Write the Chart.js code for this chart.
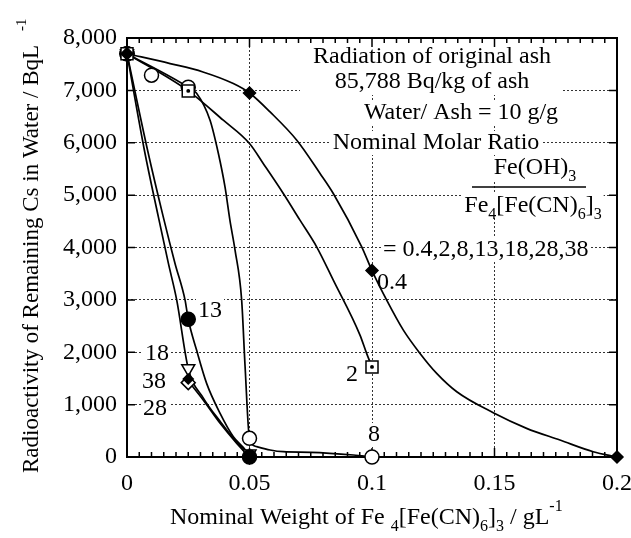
<!DOCTYPE html>
<html>
<head>
<meta charset="utf-8">
<script src="https://cdn.jsdelivr.net/npm/chart.js@4.4.1/dist/chart.umd.min.js"></script>
<style>
  html, body { margin: 0; padding: 0; background: #fff; }
  #wrap { width: 631px; height: 538px; }
</style>
</head>
<body>
<div id="wrap"><canvas id="myChart" width="631" height="538"></canvas></div>
<script>
const SERIF = '"Liberation Serif", "Times New Roman", serif';

// tick labels
const xTickLabels = ['0', '0.05', '0.1', '0.15', '0.2'];
const yTickLabels = ['0', '1,000', '2,000', '3,000', '4,000', '5,000', '6,000', '7,000', '8,000'];

// measured points, one pair of arrays per molar ratio
const x04 = [0, 0.05, 0.1, 0.2];
const y04 = [7700, 6950, 3560, 0];
const x2 = [0, 0.025, 0.1];
const y2 = [7700, 6990, 1720];
const x8 = [0, 0.01, 0.025, 0.05, 0.1];
const y8 = [7700, 7290, 7060, 357, 0];
const x13 = [0, 0.025, 0.05];
const y13 = [7700, 2630, 0];
const x18 = [0, 0.025, 0.05];
const y18 = [7700, 1690, 60];
const x28 = [0, 0.025, 0.05];
const y28 = [7700, 1420, 0];
const x38 = [0, 0.025, 0.05];
const y38 = [7700, 1490, 0];

// smooth curves as drawn in the figure
const fitX04 = [0, 0.0176, 0.031, 0.0434, 0.05, 0.0584, 0.0693, 0.0788, 0.0842, 0.0958, 0.1, 0.106, 0.1128, 0.1196, 0.1264, 0.1346, 0.1495, 0.1631, 0.1767, 0.1903, 0.2];
const fitY04 = [7700, 7512, 7352, 7130, 6950, 6588, 6048, 5413, 5031, 4013, 3560, 2996, 2423, 1978, 1597, 1246, 845, 547, 324, 101, 0];
const fitX2 = [0, 0.025, 0.0393, 0.05, 0.0556, 0.0638, 0.0706, 0.0774, 0.0842, 0.0951, 0.0978, 0.1];
const fitY2 = [7700, 6990, 6430, 5985, 5604, 5031, 4522, 4013, 3377, 2328, 1979, 1720];
const fitX8 = [0, 0.025, 0.0284, 0.0339, 0.0373, 0.04, 0.042, 0.0441, 0.0468, 0.0482, 0.05, 0.053, 0.0584, 0.0638, 0.075, 0.0924, 0.1];
const fitY8 = [7700, 7060, 6945, 6430, 5795, 5157, 4522, 3950, 2996, 1723, 357, 197, 134, 101, 90, 38, 0];
const fitX13 = [0, 0.0084, 0.0148, 0.0196, 0.0237, 0.025, 0.0284, 0.0325, 0.038, 0.0434, 0.0489, 0.05];
const fitY13 = [7700, 5857, 4585, 3696, 2996, 2630, 2041, 1406, 834, 387, 101, 0];
const fitX18 = [0, 0.0071, 0.0128, 0.0169, 0.0203, 0.025, 0.0311, 0.038, 0.0448, 0.05];
const fitY18 = [7700, 5857, 4585, 3696, 2996, 1690, 1130, 680, 280, 60];
const fitX28 = [0.025, 0.0311, 0.038, 0.0448, 0.05];
const fitY28 = [1450, 1088, 643, 261, 0];

const pts = (xs, ys) => xs.map((x, i) => ({ x: x, y: ys[i] }));

function marker(data, style, radius, fill, rotation) {
    return {
        data: data,
        showLine: false,
        clip: false,
        pointStyle: style,
        pointRadius: radius,
        pointHoverRadius: radius,
        pointRotation: rotation || 0,
        pointBackgroundColor: fill,
        pointBorderColor: '#000',
        pointBorderWidth: 1.5,
        order: 0
    };
}

function curve(data) {
    return {
        data: data,
        showLine: true,
        borderColor: '#000',
        borderWidth: 1.7,
        pointRadius: 0,
        cubicInterpolationMode: 'monotone',
        fill: false,
        order: 1
    };
}

// text drawn with a white box behind it (hides the dotted grid like the original)
function textWidth(ctx, parts, size) {
    let w = 0;
    parts.forEach(p => {
        ctx.font = (p.sub || p.sup ? Math.round(size * 0.65) : size) + 'px ' + SERIF;
        w += ctx.measureText(p.t).width + (p.gap || 0);
    });
    return w;
}

function drawParts(ctx, parts, x, y, size, box) {
    const w = textWidth(ctx, parts, size);
    if (box) {
        ctx.fillStyle = '#fff';
        ctx.fillRect(x - 2, y - size / 2, w + 4, size);
    }
    ctx.fillStyle = '#000';
    ctx.textBaseline = 'middle';
    ctx.textAlign = 'left';
    let cx = x;
    parts.forEach(p => {
        const s = p.sub || p.sup ? Math.round(size * 0.65) : size;
        ctx.font = s + 'px ' + SERIF;
        cx += p.gap || 0;
        const dy = p.sub ? size * 0.35 : (p.sup ? -size * 0.45 : 0);
        ctx.fillText(p.t, cx, y + dy);
        cx += ctx.measureText(p.t).width;
    });
    return w;
}

const annot = {
    id: 'annot',
    beforeDatasetsDraw(chart) {
        const { ctx, chartArea: a, scales } = chart;
        const xs = scales.x, ys = scales.y;
        ctx.save();

        // heading block
        ctx.fillStyle = '#fff';
        ctx.fillRect(300, a.top + 1, 262, 56);
        const fs = 24;
        [['Radiation of original ash', 432, 57], ['85,788 Bq/kg of ash', 432, 82]].forEach(r => {
            ctx.font = fs + 'px ' + SERIF;
            const w = ctx.measureText(r[0]).width;
            drawParts(ctx, [{ t: r[0] }], r[1] - w / 2, r[2], fs, false);
        });
        ctx.font = fs + 'px ' + SERIF;
        let w = ctx.measureText('Water/ Ash = 10 g/g').width;
        drawParts(ctx, [{ t: 'Water/ Ash = 10 g/g' }], 461 - w / 2, 113, fs, true);
        w = ctx.measureText('Nominal Molar Ratio').width;
        drawParts(ctx, [{ t: 'Nominal Molar Ratio' }], 436 - w / 2, 143, fs, true);

        // the fraction
        const num = [{ t: 'Fe(OH)' }, { t: '3', sub: true }];
        const den = [{ t: 'Fe' }, { t: '4', sub: true }, { t: '[Fe(CN)' }, { t: '6', sub: true }, { t: ']' }, { t: '3', sub: true }];
        w = textWidth(ctx, num, fs);
        drawParts(ctx, num, 535 - w / 2, 168, fs, true);
        w = textWidth(ctx, den, fs);
        drawParts(ctx, den, 533 - w / 2, 206, fs, true);
        ctx.strokeStyle = '#000';
        ctx.lineWidth = 1.5;
        ctx.beginPath();
        ctx.moveTo(472, 187);
        ctx.lineTo(586, 187);
        ctx.stroke();
        drawParts(ctx, [{ t: '= 0.4,2,8,13,18,28,38' }], 383, 250, fs, true);

        // ratio labels next to the curves
        [['0.4', 377, 283], ['2', 346, 375], ['8', 368, 435], ['13', 198, 311],
         ['18', 145, 354], ['38', 142, 382], ['28', 143, 409]].forEach(l => {
            drawParts(ctx, [{ t: l[0] }], l[1], l[2], fs, true);
        });

        // frame and inside tick marks
        ctx.strokeStyle = '#000';
        ctx.lineWidth = 1.5;
        ctx.beginPath();
        for (let i = 0; i <= 40; i++) {
            const px = xs.getPixelForValue(i * 0.005);
            const len = i % 10 === 0 ? 9 : 5;
            ctx.moveTo(px, a.bottom);
            ctx.lineTo(px, a.bottom - len);
            ctx.moveTo(px, a.top);
            ctx.lineTo(px, a.top + len);
        }
        for (let i = 0; i <= 8; i++) {
            const py = ys.getPixelForValue(i * 1000);
            ctx.moveTo(a.left, py);
            ctx.lineTo(a.left + 8, py);
            ctx.moveTo(a.right, py);
            ctx.lineTo(a.right - 8, py);
        }
        ctx.stroke();
        ctx.lineWidth = 2;
        ctx.strokeRect(a.left, a.top, a.right - a.left, a.bottom - a.top);
        ctx.restore();
    },
    afterDraw(chart) {
        const { ctx } = chart;
        ctx.save();
        // x axis title
        drawParts(ctx, [{ t: 'Nominal Weight of Fe ' }, { t: '4', sub: true }, { t: '[Fe(CN)' }, { t: '6', sub: true },
            { t: ']' }, { t: '3', sub: true }, { t: ' / gL' }, { t: '-1', sup: true }], 170, 518, 24, false);
        // y axis title
        ctx.translate(32, 473);
        ctx.rotate(-Math.PI / 2);
        drawParts(ctx, [{ t: 'Radioactivity of Remaining Cs in Water / BqL' }, { t: '-1', sup: true, gap: 14 }], 0, 0, 23, false);
        ctx.restore();
    }
};

const gridColor = (ctx, edges) => edges.includes(ctx.tick.value) ? 'rgba(0,0,0,0)' : '#333';

const ctx1 = document.getElementById('myChart').getContext('2d');
const myChart = new Chart(ctx1, {
    type: 'scatter',
    data: {
        datasets: [
            marker(pts(x2, y2), 'circle', 1.2, '#000'),
            marker(pts(x04, y04), 'rectRot', 6, '#000'),
            marker(pts(x2, y2), 'rect', 8.5, '#fff'),
            marker(pts(x8, y8), 'circle', 7, '#fff'),
            marker(pts(x13, y13), 'circle', 7, '#000'),
            marker(pts(x38, y38), 'rectRot', 5, '#000'),
            marker(pts(x28, y28), 'rectRot', 7, '#fff'),
            marker(pts(x18, y18), 'triangle', 7.5, '#fff', 180),
            curve(pts(fitX04, fitY04)),
            curve(pts(fitX2, fitY2)),
            curve(pts(fitX8, fitY8)),
            curve(pts(fitX13, fitY13)),
            curve(pts(fitX18, fitY18)),
            curve(pts(fitX28, fitY28))
        ]
    },
    options: {
        responsive: false,
        animation: false,
        devicePixelRatio: 1,
        layout: { padding: { top: 38, right: 14, left: 0, bottom: 0 } },
        plugins: { legend: { display: false }, tooltip: { enabled: false } },
        scales: {
            x: {
                type: 'linear',
                min: 0,
                max: 0.2,
                afterFit: s => { s.height = 81; s.paddingRight = 0; s.paddingLeft = 0; },
                afterBuildTicks: s => { s.ticks = xTickLabels.map((l, i) => ({ value: i * 0.05 })); },
                ticks: {
                    callback: (v, i) => xTickLabels[i],
                    color: '#000',
                    font: { family: SERIF, size: 24 },
                    padding: 12,
                    maxRotation: 0
                },
                grid: { color: c => gridColor(c, [0, 0.2]), lineWidth: 1, drawTicks: false },
                border: { display: false, dash: [2, 2] }
            },
            y: {
                min: 0,
                max: 8000,
                afterFit: s => { s.width = 127; s.paddingTop = 0; s.paddingBottom = 0; },
                ticks: {
                    stepSize: 1000,
                    callback: (v) => yTickLabels[Math.round(v / 1000)],
                    color: '#000',
                    font: { family: SERIF, size: 24 },
                    padding: 10
                },
                grid: { color: c => gridColor(c, [0, 8000]), lineWidth: 1, drawTicks: false },
                border: { display: false, dash: [2, 2] }
            }
        }
    },
    plugins: [annot]
});
</script>
</body>
</html>
